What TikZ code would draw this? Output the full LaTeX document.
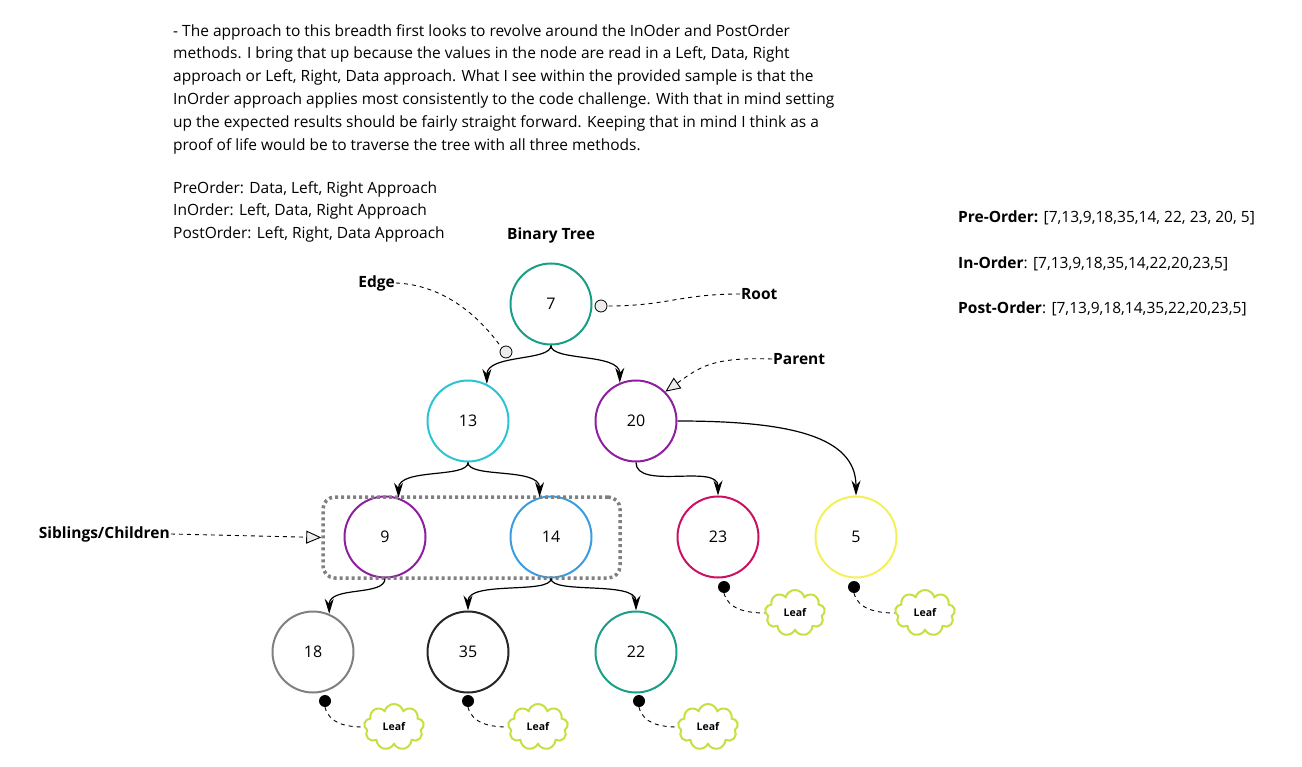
\documentclass[tikz,border=0pt]{standalone}
\usepackage{fontspec}
\setmainfont{Open Sans}
\usepackage{xcolor}
\usetikzlibrary{positioning,arrows.meta,shapes.symbols,calc}

\definecolor{tealnode}{HTML}{1A9E85}
\definecolor{cyannode}{HTML}{2CC4D2}
\definecolor{purplenode}{HTML}{8E1FA0}
\definecolor{bluenode}{HTML}{3B9DE0}
\definecolor{crimsonnode}{HTML}{CC1163}
\definecolor{yellownode}{HTML}{F4F05A}
\definecolor{graynode}{HTML}{808080}
\definecolor{leafgreen}{HTML}{C5E040}

\begin{document}
\begin{tikzpicture}[x=1pt, y=-1pt,
    treenode/.style={circle, line width=2pt, minimum size=81pt, inner sep=0pt, font=\fontsize{16}{19}\selectfont},
    treeedge/.style={-{Stealth[length=15pt,width=9pt]}, line width=1.2pt},
    notelabel/.style={font=\bfseries\fontsize{15.5}{18}\selectfont, inner sep=1pt},
    noteline/.style={line width=0.9pt, dash pattern=on 4pt off 4pt},
    opentip/.style={-{Triangle[length=15pt, width=13pt, fill=gray!15]}},
    hollowdot/.style={circle, draw, fill=gray!15, line width=0.8pt, minimum size=12pt, inner sep=0pt},
    leafdot/.style={circle, fill=black, minimum size=12pt, inner sep=0pt},
    leafcloud/.style={cloud, cloud puffs=9, aspect=1.3, draw=leafgreen, line width=2pt,
        minimum width=60pt, minimum height=46pt, inner sep=0pt, font=\bfseries\fontsize{10.5}{12}\selectfont},
    plaintext/.style={font=\fontsize{15.5}{22.8}\selectfont, inner sep=0pt, align=left}]

    \useasboundingbox (0,0) rectangle (1302,767);

    % =========================================================
    % NOTES
    % =========================================================
    \node[plaintext, anchor=north west] (intro) at (173,24)
        {- The approach to this breadth first looks to revolve around the InOder and PostOrder\\
         methods. I bring that up because the values in the node are read in a Left, Data, Right\\
         approach or Left, Right, Data approach. What I see within the provided sample is that the\\
         InOrder approach applies most consistently to the code challenge. With that in mind setting\\
         up the expected results should be fairly straight forward. Keeping that in mind I think as a\\
         proof of life would be to traverse the tree with all three methods.};
    \node[plaintext, anchor=north west] (orders) at (173,181)
        {PreOrder: Data, Left, Right Approach\\
         InOrder: Left, Data, Right Approach\\
         PostOrder: Left, Right, Data Approach};

    \node[notelabel] (title) at (551,235) {Binary Tree};

    % Traversal results
    \node[plaintext, anchor=west] (preorder) at (958,218) {\textbf{Pre-Order:} [7,13,9,18,35,14, 22, 23, 20, 5]};
    \node[plaintext, anchor=west] (inorder) at (958,264) {\textbf{In-Order}: [7,13,9,18,35,14,22,20,23,5]};
    \node[plaintext, anchor=west] (postorder) at (958,309) {\textbf{Post-Order}: [7,13,9,18,14,35,22,20,23,5]};

    % =========================================================
    % TREE NODES
    % =========================================================
    \node[treenode, draw=tealnode] (n7) at (551,304) {7};
    \node[treenode, draw=cyannode] (n13) at (468,421) {13};
    \node[treenode, draw=purplenode] (n20) at (636,421) {20};
    \node[treenode, draw=purplenode] (n9) at (385,537) {9};
    \node[treenode, draw=bluenode] (n14) at (551,537) {14};
    \node[treenode, draw=crimsonnode] (n23) at (718,537) {23};
    \node[treenode, draw=yellownode] (n5) at (856,537) {5};
    \node[treenode, draw=graynode] (n18) at (313,652) {18};
    \node[treenode, draw=black!85] (n35) at (468,652) {35};
    \node[treenode, draw=tealnode] (n22) at (636,652) {22};

    % Siblings frame
    \node[draw=graynode, line width=3.5pt, dash pattern=on 3pt off 3pt, rounded corners=12pt,
        minimum width=297pt, minimum height=81pt, inner sep=0pt] (siblingbox) at (471.5,537.5) {};

    % =========================================================
    % EDGES
    % =========================================================
    \draw[treeedge] (n7.south) .. controls +(0,16) and +(0,-30) .. (n13.63);
    \draw[treeedge] (n7.south) .. controls +(0,16) and +(0,-30) .. (n20.113);
    \draw[treeedge] (n13.south) .. controls +(0,16) and +(0,-30) .. (n9.71);
    \draw[treeedge] (n13.south) .. controls +(0,16) and +(0,-30) .. (n14.106);
    \draw[treeedge] (n20.south) .. controls +(0,28) and +(0,-32) .. (n23.north);
    \draw[treeedge] (n20.east) .. controls +(110,0) and +(0,-60) .. (n5.north);
    \draw[treeedge] (n9.south) .. controls +(0,18) and +(0,-28) .. (n18.67);
    \draw[treeedge] (n14.south) .. controls +(0,16) and +(0,-30) .. (n35.north);
    \draw[treeedge] (n14.south) .. controls +(0,16) and +(0,-30) .. (n22.north);

    % =========================================================
    % ANNOTATIONS
    % =========================================================
    \node[notelabel, anchor=east] (edgelabel) at (396,283) {Edge};
    \node[hollowdot] (edgedot) at (506,352) {};
    \draw[noteline] (edgelabel.east) .. controls +(45,2) and +(-25,-35) .. (edgedot.north west);

    \node[notelabel, anchor=west] (rootlabel) at (740,294) {Root};
    \node[hollowdot] (rootdot) at (601,306) {};
    \draw[noteline] (rootlabel.west) .. controls +(-60,0) and +(60,0) .. (rootdot.east);

    \node[notelabel, anchor=west] (parentlabel) at (772,359) {Parent};
    \draw[noteline, opentip] (parentlabel.west) .. controls +(-60,-2) and +(35,-25) .. (n20.45);

    \node[notelabel, anchor=east] (siblinglabel) at (171,534) {Siblings/Children};
    \draw[noteline, opentip] (siblinglabel.east) -- (siblingbox.west);

    % Leaves
    \node[leafdot] (dot23) at (724,587) {};
    \node[leafcloud] (leaf23) at (795,613) {Leaf};
    \draw[noteline] (dot23.south) .. controls +(4,16) and +(-18,0) .. (leaf23.west);

    \node[leafdot] (dot5) at (854,587) {};
    \node[leafcloud] (leaf5) at (925,613) {Leaf};
    \draw[noteline] (dot5.south) .. controls +(4,16) and +(-18,0) .. (leaf5.west);

    \node[leafdot] (dot18) at (325,701) {};
    \node[leafcloud] (leaf18) at (394,727) {Leaf};
    \draw[noteline] (dot18.south) .. controls +(4,16) and +(-18,0) .. (leaf18.west);

    \node[leafdot] (dot35) at (468,701) {};
    \node[leafcloud] (leaf35) at (538,727) {Leaf};
    \draw[noteline] (dot35.south) .. controls +(4,16) and +(-18,0) .. (leaf35.west);

    \node[leafdot] (dot22) at (639,701) {};
    \node[leafcloud] (leaf22) at (708,727) {Leaf};
    \draw[noteline] (dot22.south) .. controls +(4,16) and +(-18,0) .. (leaf22.west);
\end{tikzpicture}
\end{document}
